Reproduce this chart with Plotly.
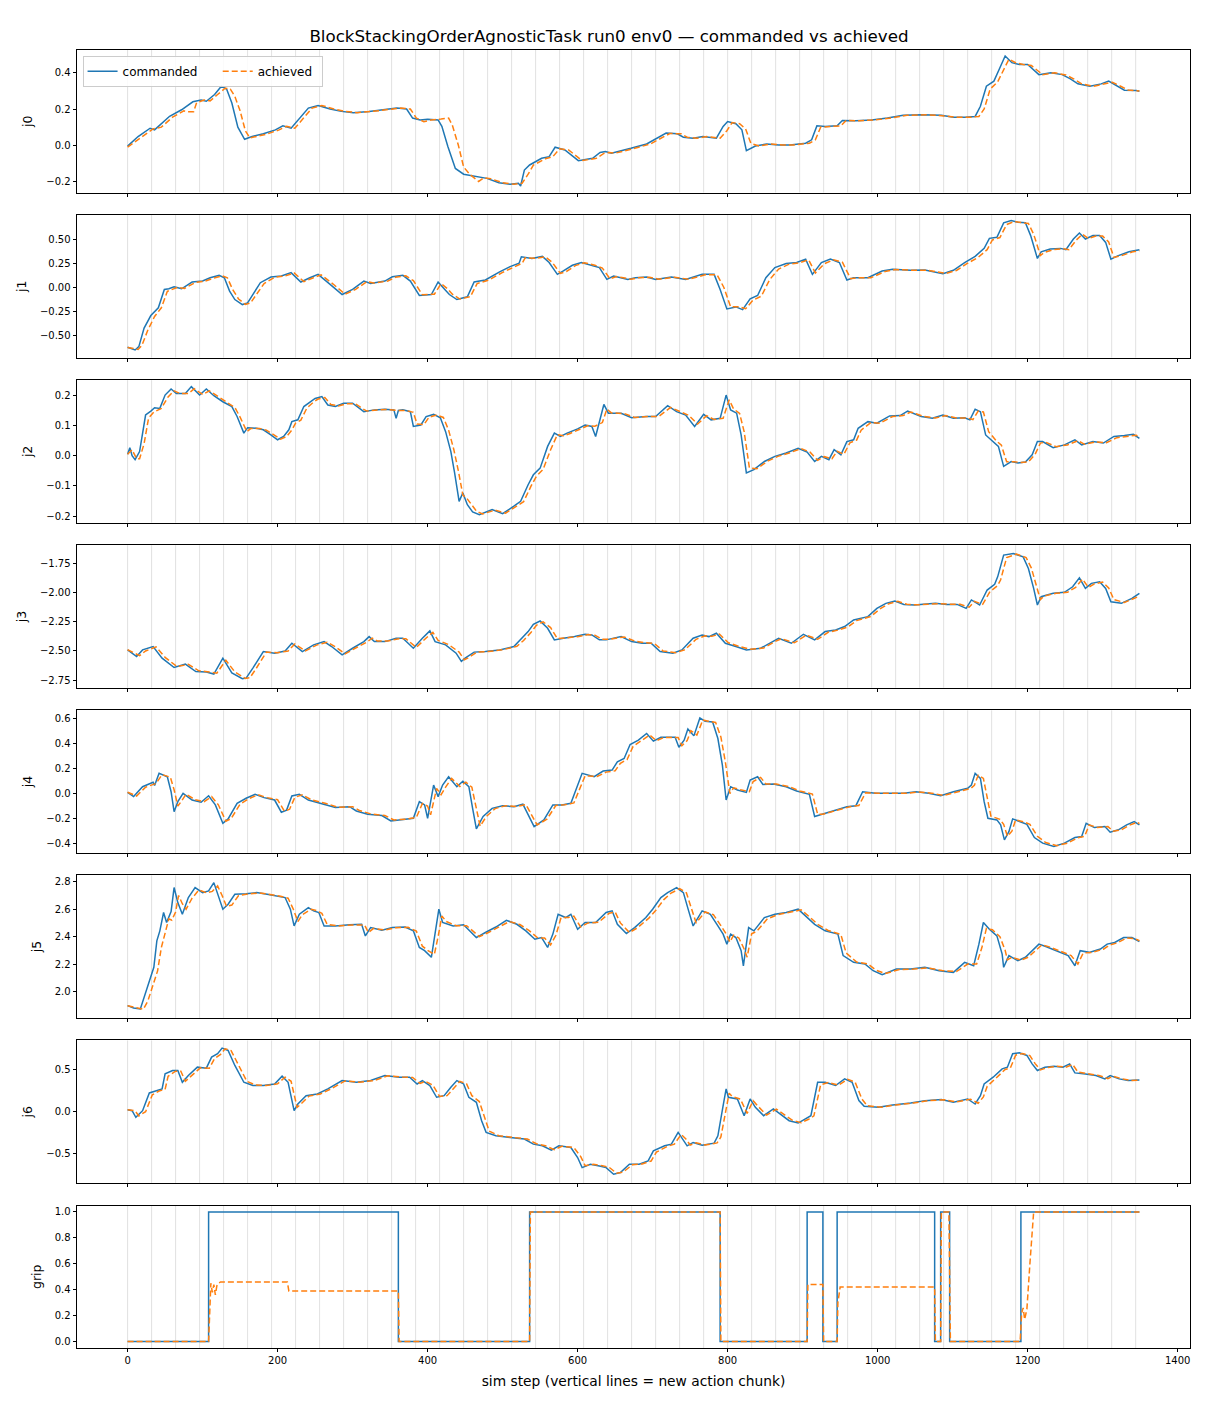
import plotly.graph_objects as go

# ---------------- data (sim step, value) ----------------
J0_CMD = [(0,-0.005),(14,0.048),(30,0.094),(36,0.085),(40,0.10),(56,0.16),(72,0.196),(87,0.24),(98,0.25),(105,0.243),(116,0.28),(125,0.326),(132,0.31),(139,0.233),(147,0.10),(156,0.033),(166,0.048),(181,0.063),(197,0.085),(207,0.107),(218,0.094),(228,0.14),(241,0.205),(254,0.22),(270,0.2),(285,0.187),(301,0.18),(322,0.187),(343,0.196),(359,0.205),(372,0.2),(380,0.15),(390,0.14),(400,0.144),(414,0.14),(419,0.104),(427,-0.007),(437,-0.128),(448,-0.16),(463,-0.17),(479,-0.183),(495,-0.207),(510,-0.215),(521,-0.21),(524,-0.225),(529,-0.137),(536,-0.109),(552,-0.072),(562,-0.063),(570,-0.011),(583,-0.026),(601,-0.085),(620,-0.072),(630,-0.04),(637,-0.035),(645,-0.044),(661,-0.03),(671,-0.017),(692,0.007),(707,0.039),(718,0.067),(733,0.063),(741,0.044),(754,0.039),(767,0.048),(785,0.039),(794,0.104),(800,0.131),(811,0.119),(819,0.085),(825,-0.03),(837,-0.004),(852,0.007),(868,0.002),(883,0.002),(904,0.011),(912,0.03),(919,0.107),(930,0.104),(946,0.107),(953,0.137),(971,0.135),(992,0.14),(1013,0.15),(1034,0.165),(1060,0.168),(1085,0.165),(1101,0.154),(1117,0.154),(1130,0.159),(1137,0.215),(1145,0.326),(1155,0.354),(1163,0.428),(1170,0.493),(1179,0.456),(1189,0.446),(1200,0.446),(1207,0.419),(1215,0.39),(1231,0.4),(1246,0.39),(1257,0.367),(1267,0.339),(1283,0.326),(1298,0.339),(1308,0.354),(1319,0.326),(1329,0.304),(1345,0.302),(1349,0.298)]
J0_ACH = [(0,-0.01),(18,0.045),(34,0.09),(45,0.1),(60,0.155),(75,0.19),(80,0.185),(88,0.185),(92,0.235),(102,0.25),(110,0.245),(120,0.28),(130,0.315),(137,0.31),(143,0.27),(150,0.19),(157,0.08),(163,0.04),(172,0.048),(186,0.062),(202,0.085),(212,0.105),(223,0.094),(233,0.14),(246,0.205),(259,0.22),(275,0.2),(290,0.187),(306,0.18),(327,0.187),(348,0.196),(364,0.205),(377,0.2),(385,0.15),(395,0.13),(405,0.14),(418,0.145),(428,0.15),(433,0.11),(441,0.0),(448,-0.12),(456,-0.16),(468,-0.2),(475,-0.18),(484,-0.185),(500,-0.207),(515,-0.215),(526,-0.21),(534,-0.16),(541,-0.11),(557,-0.075),(567,-0.063),(576,-0.02),(588,-0.026),(606,-0.085),(625,-0.072),(635,-0.045),(642,-0.04),(650,-0.044),(666,-0.03),(676,-0.017),(697,0.007),(712,0.039),(723,0.065),(738,0.063),(746,0.044),(759,0.039),(772,0.048),(790,0.039),(799,0.08),(806,0.125),(816,0.119),(824,0.09),(831,0.01),(842,-0.004),(857,0.007),(873,0.002),(888,0.002),(909,0.011),(917,0.03),(924,0.1),(935,0.104),(951,0.107),(958,0.137),(976,0.135),(997,0.14),(1018,0.15),(1039,0.165),(1065,0.168),(1090,0.162),(1106,0.154),(1122,0.154),(1135,0.159),(1142,0.2),(1150,0.31),(1160,0.35),(1168,0.42),(1175,0.475),(1184,0.456),(1194,0.446),(1205,0.44),(1212,0.415),(1220,0.39),(1236,0.4),(1251,0.388),(1262,0.365),(1272,0.339),(1288,0.326),(1303,0.337),(1313,0.348),(1324,0.326),(1334,0.305),(1349,0.3)]

J1_CMD = [(0,-0.618),(10,-0.646),(15,-0.611),(22,-0.42),(31,-0.29),(41,-0.21),(49,-0.021),(55,-0.014),(62,0.007),(72,-0.014),(86,0.056),(100,0.066),(110,0.10),(122,0.125),(129,0.10),(136,-0.038),(143,-0.125),(153,-0.177),(160,-0.16),(167,-0.073),(177,0.049),(191,0.108),(205,0.118),(218,0.153),(231,0.056),(243,0.10),(254,0.135),(270,0.031),(286,-0.073),(300,-0.021),(315,0.066),(324,0.042),(343,0.066),(353,0.11),(367,0.125),(377,0.066),(389,-0.083),(405,-0.073),(414,0.056),(422,-0.014),(429,-0.073),(439,-0.125),(453,-0.097),(462,0.056),(477,0.077),(496,0.16),(510,0.215),(522,0.25),(525,0.316),(539,0.299),(553,0.32),(562,0.257),(573,0.135),(581,0.17),(593,0.229),(605,0.257),(619,0.229),(629,0.205),(639,0.083),(648,0.118),(667,0.083),(677,0.10),(692,0.108),(704,0.083),(725,0.108),(744,0.083),(766,0.135),(782,0.135),(790,-0.021),(799,-0.222),(811,-0.201),(820,-0.229),(830,-0.118),(840,-0.083),(851,0.10),(863,0.205),(878,0.247),(892,0.257),(904,0.292),(913,0.135),(925,0.257),(937,0.292),(949,0.257),(959,0.076),(968,0.10),(987,0.10),(1006,0.17),(1020,0.188),(1044,0.177),(1063,0.18),(1087,0.142),(1101,0.177),(1116,0.257),(1130,0.32),(1142,0.403),(1149,0.507),(1159,0.517),(1168,0.667),(1178,0.69),(1187,0.674),(1197,0.667),(1204,0.535),(1213,0.299),(1218,0.368),(1230,0.396),(1244,0.403),(1251,0.389),(1261,0.5),(1269,0.562),(1277,0.5),(1287,0.535),(1296,0.535),(1304,0.465),(1311,0.292),(1320,0.326),(1335,0.368),(1349,0.389)]
J1_ACH = [(0,-0.62),(14,-0.64),(19,-0.6),(27,-0.44),(36,-0.3),(45,-0.21),(53,-0.04),(60,-0.014),(66,0.0),(76,-0.01),(90,0.05),(104,0.066),(114,0.095),(126,0.12),(133,0.10),(140,-0.02),(148,-0.12),(157,-0.175),(164,-0.16),(172,-0.07),(182,0.04),(196,0.105),(210,0.118),(222,0.15),(235,0.06),(247,0.098),(258,0.13),(274,0.035),(290,-0.07),(304,-0.02),(319,0.06),(328,0.045),(347,0.066),(357,0.105),(371,0.12),(381,0.07),(393,-0.075),(409,-0.07),(418,0.04),(426,-0.01),(433,-0.07),(443,-0.12),(457,-0.095),(466,0.04),(481,0.075),(500,0.155),(514,0.21),(526,0.25),(530,0.305),(543,0.3),(557,0.315),(566,0.26),(577,0.145),(585,0.165),(597,0.225),(609,0.255),(623,0.23),(633,0.2),(643,0.09),(652,0.112),(671,0.085),(681,0.1),(696,0.105),(708,0.085),(729,0.105),(748,0.085),(770,0.13),(786,0.13),(795,0.0),(804,-0.2),(815,-0.2),(824,-0.22),(834,-0.13),(845,-0.09),(856,0.08),(868,0.19),(882,0.24),(896,0.255),(908,0.285),(917,0.15),(929,0.245),(941,0.285),(953,0.26),(964,0.09),(972,0.1),(991,0.1),(1010,0.165),(1024,0.185),(1048,0.177),(1067,0.178),(1091,0.145),(1105,0.175),(1120,0.25),(1134,0.31),(1146,0.39),(1153,0.49),(1163,0.515),(1172,0.65),(1182,0.68),(1191,0.672),(1201,0.66),(1208,0.55),(1217,0.33),(1222,0.36),(1234,0.39),(1248,0.4),(1255,0.39),(1265,0.49),(1273,0.55),(1281,0.505),(1291,0.53),(1300,0.53),(1308,0.47),(1315,0.31),(1324,0.325),(1339,0.365),(1349,0.38)]

J2_CMD = [(0,0.005),(3,0.027),(6,0.0),(10,-0.013),(16,0.014),(20,0.069),(24,0.135),(31,0.148),(36,0.159),(43,0.157),(50,0.201),(58,0.221),(65,0.206),(77,0.206),(85,0.229),(96,0.201),(105,0.221),(115,0.199),(127,0.179),(139,0.163),(146,0.13),(155,0.075),(160,0.093),(172,0.091),(181,0.086),(191,0.069),(200,0.053),(208,0.064),(215,0.086),(219,0.113),(227,0.119),(235,0.163),(243,0.179),(250,0.19),(259,0.196),(267,0.168),(277,0.163),(288,0.174),(300,0.174),(308,0.159),(315,0.146),(329,0.152),(343,0.154),(355,0.152),(358,0.124),(361,0.15),(367,0.152),(377,0.146),(381,0.097),(391,0.102),(398,0.13),(408,0.137),(417,0.126),(424,0.08),(431,0.014),(436,-0.057),(442,-0.151),(447,-0.123),(453,-0.162),(460,-0.186),(469,-0.195),(486,-0.178),(500,-0.192),(515,-0.167),(524,-0.151),(534,-0.096),(541,-0.063),(550,-0.041),(560,0.031),(569,0.075),(577,0.064),(586,0.075),(600,0.089),(610,0.102),(619,0.097),(624,0.064),(629,0.113),(635,0.17),(641,0.141),(658,0.141),(672,0.126),(691,0.13),(704,0.13),(720,0.166),(732,0.146),(744,0.135),(756,0.097),(768,0.137),(778,0.119),(790,0.124),(798,0.201),(804,0.152),(812,0.141),(818,0.069),(825,-0.057),(835,-0.046),(849,-0.019),(863,-0.002),(878,0.009),(894,0.025),(906,0.012),(916,-0.019),(925,-0.002),(935,-0.013),(942,0.02),(951,0.003),(959,0.047),(968,0.053),(974,0.091),(987,0.113),(999,0.108),(1016,0.132),(1030,0.133),(1040,0.148),(1058,0.13),(1073,0.124),(1087,0.135),(1101,0.124),(1116,0.126),(1123,0.119),(1130,0.154),(1137,0.146),(1144,0.069),(1154,0.047),(1161,0.031),(1168,-0.035),(1178,-0.019),(1187,-0.024),(1197,-0.021),(1206,0.003),(1213,0.047),(1220,0.047),(1234,0.027),(1249,0.036),(1263,0.053),(1272,0.036),(1287,0.047),(1301,0.042),(1315,0.064),(1329,0.067),(1341,0.071),(1349,0.058)]
J2_ACH = [(0,0.005),(6,0.02),(12,-0.01),(16,-0.01),(22,0.04),(28,0.125),(35,0.145),(45,0.157),(54,0.195),(62,0.215),(70,0.206),(81,0.206),(89,0.222),(100,0.203),(109,0.215),(119,0.198),(131,0.178),(143,0.16),(150,0.128),(159,0.08),(164,0.09),(176,0.09),(185,0.085),(195,0.07),(204,0.055),(212,0.064),(219,0.085),(224,0.108),(231,0.118),(239,0.158),(247,0.176),(254,0.188),(263,0.193),(271,0.17),(281,0.165),(292,0.172),(304,0.172),(312,0.158),(319,0.148),(333,0.152),(347,0.153),(362,0.15),(371,0.15),(381,0.144),(386,0.105),(395,0.103),(402,0.128),(412,0.135),(421,0.127),(428,0.085),(435,0.02),(441,-0.05),(447,-0.13),(452,-0.14),(458,-0.16),(465,-0.183),(473,-0.193),(490,-0.18),(504,-0.19),(519,-0.168),(528,-0.152),(538,-0.1),(545,-0.068),(554,-0.045),(564,0.02),(573,0.07),(581,0.066),(590,0.074),(604,0.088),(614,0.1),(623,0.098),(633,0.11),(639,0.155),(645,0.142),(662,0.14),(676,0.127),(695,0.13),(708,0.13),(724,0.16),(736,0.146),(748,0.134),(760,0.105),(772,0.133),(782,0.12),(794,0.124),(802,0.185),(808,0.155),(816,0.14),(822,0.08),(829,-0.04),(839,-0.043),(853,-0.018),(867,-0.002),(882,0.009),(898,0.024),(910,0.012),(920,-0.015),(929,-0.003),(939,-0.01),(946,0.015),(955,0.005),(963,0.043),(972,0.052),(978,0.085),(991,0.11),(1003,0.108),(1020,0.13),(1034,0.133),(1044,0.145),(1062,0.13),(1077,0.125),(1091,0.133),(1105,0.125),(1120,0.125),(1127,0.12),(1134,0.148),(1141,0.145),(1148,0.08),(1158,0.05),(1165,0.035),(1172,-0.02),(1182,-0.02),(1191,-0.022),(1201,-0.02),(1210,0.005),(1217,0.042),(1224,0.045),(1238,0.03),(1253,0.036),(1267,0.05),(1276,0.038),(1291,0.046),(1305,0.043),(1319,0.06),(1333,0.065),(1345,0.068),(1349,0.062)]

J3_CMD = [(0,-2.491),(12,-2.548),(20,-2.491),(34,-2.462),(46,-2.562),(62,-2.642),(77,-2.613),(91,-2.676),(105,-2.681),(115,-2.698),(127,-2.562),(139,-2.689),(153,-2.738),(158,-2.733),(167,-2.647),(181,-2.505),(196,-2.519),(210,-2.5),(219,-2.434),(233,-2.505),(248,-2.448),(262,-2.42),(272,-2.462),(286,-2.533),(300,-2.477),(315,-2.42),(322,-2.377),(329,-2.42),(343,-2.42),(358,-2.391),(367,-2.391),(381,-2.477),(393,-2.391),(403,-2.328),(410,-2.42),(424,-2.448),(438,-2.519),(445,-2.59),(450,-2.562),(462,-2.51),(477,-2.505),(496,-2.491),(515,-2.462),(524,-2.405),(534,-2.334),(541,-2.271),(550,-2.243),(560,-2.306),(569,-2.405),(581,-2.391),(596,-2.377),(610,-2.357),(619,-2.363),(629,-2.405),(638,-2.405),(658,-2.377),(672,-2.42),(686,-2.434),(698,-2.434),(710,-2.505),(727,-2.519),(739,-2.491),(754,-2.391),(766,-2.363),(775,-2.377),(785,-2.348),(797,-2.434),(811,-2.462),(825,-2.491),(844,-2.477),(859,-2.42),(868,-2.391),(885,-2.434),(901,-2.357),(916,-2.405),(930,-2.334),(944,-2.32),(956,-2.291),(968,-2.234),(987,-2.206),(999,-2.135),(1011,-2.092),(1023,-2.072),(1035,-2.101),(1049,-2.106),(1063,-2.101),(1077,-2.092),(1092,-2.101),(1106,-2.101),(1118,-2.135),(1125,-2.063),(1136,-2.106),(1146,-1.978),(1156,-1.929),(1160,-1.865),(1168,-1.679),(1181,-1.665),(1194,-1.694),(1201,-1.793),(1208,-1.964),(1213,-2.106),(1218,-2.035),(1234,-2.006),(1249,-1.998),(1260,-1.95),(1269,-1.873),(1277,-1.964),(1285,-1.921),(1296,-1.907),(1304,-1.964),(1311,-2.078),(1325,-2.092),(1339,-2.049),(1349,-2.006)]
J3_ACH = [(0,-2.49),(16,-2.54),(24,-2.5),(38,-2.465),(50,-2.555),(66,-2.635),(81,-2.615),(95,-2.67),(109,-2.68),(119,-2.69),(131,-2.58),(143,-2.68),(157,-2.735),(163,-2.73),(171,-2.655),(185,-2.51),(200,-2.515),(214,-2.5),(223,-2.44),(237,-2.5),(252,-2.45),(266,-2.425),(276,-2.46),(290,-2.525),(304,-2.475),(319,-2.425),(326,-2.39),(333,-2.415),(347,-2.415),(362,-2.395),(371,-2.395),(385,-2.47),(397,-2.395),(407,-2.34),(414,-2.41),(428,-2.445),(442,-2.51),(449,-2.575),(454,-2.56),(466,-2.51),(481,-2.505),(500,-2.49),(519,-2.46),(528,-2.41),(538,-2.34),(545,-2.28),(554,-2.25),(564,-2.3),(573,-2.395),(585,-2.39),(600,-2.378),(614,-2.36),(623,-2.365),(633,-2.4),(642,-2.4),(662,-2.38),(676,-2.415),(690,-2.43),(702,-2.435),(714,-2.5),(731,-2.515),(743,-2.49),(758,-2.4),(770,-2.37),(779,-2.375),(789,-2.355),(801,-2.43),(815,-2.46),(829,-2.485),(848,-2.475),(863,-2.42),(872,-2.395),(889,-2.43),(905,-2.365),(920,-2.4),(934,-2.34),(948,-2.32),(960,-2.295),(972,-2.24),(991,-2.205),(1003,-2.14),(1015,-2.095),(1027,-2.075),(1039,-2.1),(1053,-2.105),(1067,-2.1),(1081,-2.095),(1096,-2.1),(1110,-2.1),(1122,-2.125),(1129,-2.075),(1140,-2.1),(1150,-1.99),(1160,-1.94),(1164,-1.89),(1172,-1.7),(1185,-1.67),(1198,-1.7),(1205,-1.79),(1212,-1.95),(1217,-2.06),(1222,-2.03),(1238,-2.005),(1253,-1.998),(1264,-1.955),(1273,-1.885),(1281,-1.955),(1289,-1.925),(1300,-1.91),(1308,-1.96),(1315,-2.06),(1329,-2.085),(1343,-2.05),(1349,-2.03)]

J4_CMD = [(0,0.009),(8,-0.025),(20,0.054),(34,0.089),(36,0.063),(42,0.16),(53,0.133),(58,0.014),(62,-0.145),(67,-0.065),(74,0.001),(86,-0.052),(98,-0.07),(108,-0.018),(117,-0.091),(127,-0.237),(134,-0.202),(146,-0.078),(158,-0.038),(170,-0.007),(182,-0.033),(196,-0.052),(205,-0.149),(212,-0.132),(219,-0.02),(229,-0.007),(241,-0.052),(258,-0.078),(277,-0.112),(296,-0.105),(305,-0.139),(320,-0.165),(339,-0.175),(351,-0.218),(367,-0.21),(381,-0.197),(389,-0.065),(396,-0.091),(400,-0.197),(408,0.067),(414,-0.025),(420,0.067),(428,0.133),(439,0.054),(447,0.098),(455,0.054),(460,-0.118),(465,-0.281),(474,-0.183),(486,-0.118),(500,-0.097),(515,-0.105),(527,-0.085),(536,-0.197),(542,-0.263),(555,-0.21),(567,-0.091),(579,-0.091),(591,-0.078),(606,0.16),(622,0.133),(634,0.178),(646,0.186),(653,0.252),(662,0.278),(670,0.389),(681,0.424),(692,0.477),(701,0.416),(711,0.447),(730,0.447),(735,0.368),(742,0.424),(747,0.512),(755,0.458),(763,0.601),(770,0.574),(780,0.569),(787,0.437),(793,0.225),(798,-0.052),(804,0.054),(813,0.028),(825,0.009),(830,0.107),(840,0.133),(847,0.072),(861,0.075),(878,0.054),(892,0.02),(909,-0.007),(916,-0.183),(923,-0.17),(940,-0.139),(959,-0.105),(971,-0.097),(980,0.014),(997,0.001),(1016,0.001),(1035,0.001),(1051,0.014),(1068,0.001),(1084,-0.018),(1101,0.014),(1120,0.041),(1125,0.067),(1130,0.16),(1137,0.12),(1142,-0.065),(1147,-0.197),(1159,-0.21),(1164,-0.25),(1169,-0.369),(1175,-0.303),(1180,-0.202),(1192,-0.229),(1199,-0.245),(1209,-0.35),(1220,-0.395),(1235,-0.421),(1249,-0.395),(1263,-0.35),(1272,-0.342),(1278,-0.237),(1289,-0.271),(1303,-0.263),(1310,-0.308),(1321,-0.289),(1332,-0.25),(1342,-0.224),(1349,-0.25)]
J4_ACH = [(0,0.01),(12,-0.02),(24,0.05),(38,0.08),(46,0.15),(57,0.13),(62,0.03),(67,-0.1),(72,-0.06),(78,-0.005),(90,-0.05),(102,-0.065),(112,-0.025),(121,-0.09),(131,-0.22),(138,-0.2),(150,-0.085),(162,-0.04),(174,-0.01),(186,-0.033),(200,-0.05),(209,-0.14),(216,-0.125),(223,-0.03),(233,-0.01),(245,-0.05),(262,-0.075),(281,-0.11),(300,-0.105),(309,-0.135),(324,-0.162),(343,-0.175),(355,-0.21),(371,-0.205),(385,-0.19),(393,-0.08),(400,-0.1),(404,-0.17),(412,0.04),(418,-0.01),(424,0.05),(432,0.12),(443,0.055),(451,0.09),(459,0.05),(464,-0.1),(470,-0.26),(478,-0.185),(490,-0.12),(504,-0.097),(519,-0.103),(531,-0.088),(540,-0.185),(546,-0.25),(559,-0.205),(571,-0.095),(583,-0.09),(595,-0.075),(610,0.14),(626,0.135),(638,0.17),(650,0.18),(657,0.24),(666,0.27),(674,0.375),(685,0.42),(696,0.465),(705,0.42),(715,0.445),(734,0.445),(739,0.38),(746,0.42),(751,0.5),(759,0.465),(767,0.585),(774,0.575),(784,0.565),(791,0.45),(797,0.25),(803,0.0),(808,0.045),(817,0.03),(829,0.015),(834,0.095),(844,0.128),(851,0.075),(865,0.075),(882,0.055),(896,0.02),(913,-0.005),(920,-0.165),(927,-0.165),(944,-0.138),(963,-0.105),(975,-0.095),(984,0.005),(1001,0.002),(1020,0.001),(1039,0.002),(1055,0.012),(1072,0.002),(1088,-0.015),(1105,0.012),(1124,0.04),(1129,0.065),(1134,0.145),(1141,0.12),(1146,-0.04),(1151,-0.18),(1163,-0.205),(1168,-0.245),(1173,-0.34),(1179,-0.3),(1184,-0.21),(1196,-0.228),(1203,-0.245),(1213,-0.34),(1224,-0.39),(1239,-0.415),(1253,-0.395),(1267,-0.352),(1276,-0.34),(1282,-0.25),(1293,-0.27),(1307,-0.263),(1314,-0.3),(1325,-0.288),(1336,-0.252),(1346,-0.228),(1349,-0.24)]

J5_CMD = [(0,1.896),(8,1.879),(17,1.872),(22,1.958),(29,2.067),(35,2.176),(39,2.369),(43,2.442),(48,2.576),(52,2.503),(58,2.583),(62,2.758),(67,2.648),(73,2.563),(81,2.685),(90,2.758),(100,2.721),(108,2.733),(115,2.794),(121,2.697),(127,2.6),(134,2.636),(143,2.709),(158,2.713),(172,2.721),(186,2.709),(200,2.697),(210,2.685),(217,2.6),(222,2.478),(229,2.563),(241,2.612),(248,2.588),(255,2.576),(262,2.478),(277,2.478),(296,2.486),(312,2.49),(317,2.405),(324,2.466),(339,2.447),(353,2.466),(370,2.47),(381,2.442),(389,2.321),(396,2.297),(405,2.249),(410,2.418),(415,2.6),(420,2.503),(434,2.478),(448,2.486),(465,2.393),(477,2.43),(491,2.47),(505,2.519),(519,2.49),(531,2.442),(543,2.381),(552,2.393),(560,2.321),(567,2.418),(574,2.563),(584,2.539),(591,2.563),(600,2.454),(610,2.503),(624,2.503),(638,2.576),(646,2.588),(653,2.49),(665,2.422),(676,2.466),(691,2.539),(700,2.6),(711,2.685),(720,2.721),(732,2.758),(741,2.721),(748,2.588),(754,2.478),(766,2.588),(777,2.563),(787,2.478),(794,2.418),(799,2.345),(804,2.418),(811,2.393),(818,2.297),(821,2.187),(828,2.466),(835,2.442),(849,2.539),(863,2.563),(878,2.576),(894,2.6),(906,2.539),(916,2.49),(930,2.442),(947,2.418),(954,2.261),(968,2.212),(983,2.2),(994,2.151),(1006,2.122),(1025,2.163),(1044,2.163),(1063,2.176),(1082,2.151),(1101,2.139),(1116,2.212),(1128,2.187),(1135,2.345),(1141,2.503),(1149,2.454),(1159,2.405),(1166,2.272),(1168,2.176),(1175,2.261),(1187,2.224),(1197,2.249),(1206,2.297),(1215,2.345),(1225,2.326),(1242,2.285),(1254,2.261),(1263,2.187),(1270,2.297),(1282,2.285),(1297,2.309),(1306,2.345),(1316,2.357),(1328,2.393),(1339,2.393),(1349,2.364)]
J5_ACH = [(0,1.895),(12,1.88),(21,1.87),(27,1.93),(34,2.04),(40,2.15),(45,2.32),(50,2.42),(55,2.53),(59,2.52),(64,2.58),(68,2.7),(73,2.64),(78,2.6),(86,2.68),(95,2.74),(105,2.72),(113,2.73),(120,2.77),(126,2.7),(132,2.62),(139,2.63),(148,2.7),(162,2.712),(176,2.718),(190,2.708),(204,2.695),(214,2.68),(221,2.6),(227,2.51),(233,2.56),(245,2.6),(252,2.59),(259,2.57),(266,2.49),(281,2.478),(300,2.485),(316,2.485),(321,2.43),(328,2.46),(343,2.448),(357,2.465),(374,2.468),(385,2.44),(393,2.33),(400,2.3),(409,2.27),(414,2.4),(419,2.55),(425,2.51),(438,2.48),(452,2.48),(469,2.4),(481,2.43),(495,2.468),(509,2.51),(523,2.488),(535,2.445),(547,2.39),(556,2.39),(564,2.34),(571,2.41),(578,2.54),(588,2.54),(595,2.55),(604,2.47),(614,2.5),(628,2.505),(642,2.57),(650,2.58),(657,2.5),(669,2.43),(680,2.465),(695,2.535),(704,2.59),(715,2.67),(724,2.715),(736,2.75),(745,2.72),(752,2.6),(758,2.5),(770,2.58),(781,2.56),(791,2.48),(798,2.42),(803,2.36),(808,2.41),(815,2.39),(822,2.31),(826,2.25),(832,2.42),(839,2.44),(853,2.53),(867,2.56),(882,2.575),(898,2.595),(910,2.54),(920,2.49),(934,2.445),(951,2.415),(958,2.28),(972,2.215),(987,2.2),(998,2.155),(1010,2.13),(1029,2.16),(1048,2.163),(1067,2.172),(1086,2.152),(1105,2.145),(1120,2.2),(1132,2.2),(1139,2.32),(1145,2.46),(1153,2.45),(1163,2.4),(1170,2.3),(1173,2.23),(1179,2.25),(1191,2.228),(1201,2.25),(1210,2.295),(1219,2.34),(1229,2.325),(1246,2.285),(1258,2.262),(1267,2.2),(1274,2.28),(1286,2.285),(1301,2.308),(1310,2.34),(1320,2.355),(1332,2.39),(1343,2.385),(1349,2.37)]

J6_CMD = [(0,0.024),(6,0.012),(11,-0.067),(20,0.012),(29,0.222),(38,0.25),(46,0.27),(50,0.448),(60,0.488),(67,0.488),(73,0.349),(81,0.429),(93,0.528),(105,0.516),(112,0.647),(120,0.687),(126,0.754),(134,0.726),(143,0.548),(155,0.349),(167,0.31),(181,0.31),(196,0.329),(206,0.421),(214,0.349),(222,0.012),(227,0.091),(238,0.19),(253,0.21),(267,0.27),(286,0.369),(305,0.349),(324,0.369),(343,0.429),(362,0.409),(376,0.409),(386,0.329),(393,0.369),(403,0.31),(412,0.171),(422,0.19),(431,0.29),(439,0.369),(448,0.329),(455,0.171),(465,0.111),(472,-0.107),(478,-0.245),(491,-0.286),(510,-0.306),(529,-0.325),(541,-0.385),(553,-0.405),(565,-0.456),(575,-0.405),(591,-0.425),(600,-0.544),(606,-0.663),(617,-0.623),(629,-0.643),(638,-0.663),(648,-0.742),(657,-0.722),(669,-0.623),(676,-0.623),(682,-0.623),(694,-0.583),(701,-0.464),(716,-0.405),(725,-0.385),(734,-0.246),(740,-0.325),(746,-0.405),(754,-0.365),(766,-0.397),(782,-0.373),(787,-0.286),(794,0.071),(798,0.27),(801,0.171),(813,0.151),(822,-0.048),(830,0.151),(837,0.052),(848,-0.048),(861,0.032),(873,-0.048),(882,-0.107),(894,-0.135),(904,-0.087),(911,-0.048),(920,0.349),(930,0.349),(944,0.31),(956,0.389),(966,0.349),(975,0.131),(982,0.063),(1001,0.052),(1020,0.079),(1044,0.103),(1063,0.131),(1085,0.143),(1101,0.111),(1120,0.151),(1130,0.091),(1137,0.19),(1142,0.329),(1154,0.409),(1166,0.508),(1173,0.528),(1180,0.687),(1189,0.698),(1199,0.667),(1206,0.567),(1213,0.488),(1223,0.528),(1235,0.54),(1247,0.528),(1256,0.567),(1263,0.46),(1277,0.448),(1291,0.429),(1303,0.389),(1310,0.429),(1322,0.389),(1334,0.369),(1349,0.377)]
J6_ACH = [(0,0.024),(10,0.01),(15,-0.05),(24,0.0),(33,0.2),(42,0.245),(50,0.265),(54,0.42),(64,0.48),(71,0.48),(77,0.36),(85,0.42),(97,0.52),(109,0.515),(116,0.63),(124,0.68),(130,0.745),(138,0.725),(147,0.56),(159,0.36),(171,0.315),(185,0.31),(200,0.33),(210,0.41),(218,0.36),(226,0.05),(231,0.09),(242,0.185),(257,0.21),(271,0.27),(290,0.365),(309,0.35),(328,0.368),(347,0.425),(366,0.41),(380,0.405),(390,0.335),(397,0.36),(407,0.315),(416,0.18),(426,0.19),(435,0.28),(443,0.36),(452,0.33),(459,0.19),(469,0.12),(476,-0.08),(482,-0.23),(495,-0.285),(514,-0.305),(533,-0.325),(545,-0.38),(557,-0.405),(569,-0.45),(579,-0.41),(595,-0.425),(604,-0.53),(610,-0.64),(621,-0.625),(633,-0.64),(642,-0.66),(652,-0.73),(661,-0.715),(673,-0.63),(686,-0.62),(698,-0.585),(705,-0.48),(720,-0.41),(729,-0.385),(738,-0.27),(744,-0.32),(750,-0.395),(758,-0.37),(770,-0.395),(786,-0.37),(791,-0.3),(798,0.03),(802,0.22),(806,0.18),(817,0.15),(826,-0.02),(834,0.13),(841,0.06),(852,-0.04),(865,0.03),(877,-0.045),(886,-0.1),(898,-0.13),(908,-0.09),(915,-0.05),(924,0.32),(934,0.345),(948,0.315),(960,0.385),(970,0.35),(979,0.15),(986,0.07),(1005,0.053),(1024,0.08),(1048,0.103),(1067,0.13),(1089,0.142),(1105,0.115),(1124,0.148),(1134,0.1),(1141,0.175),(1146,0.3),(1158,0.4),(1170,0.5),(1177,0.52),(1184,0.67),(1193,0.69),(1203,0.665),(1210,0.57),(1217,0.495),(1227,0.525),(1239,0.538),(1251,0.528),(1260,0.56),(1267,0.47),(1281,0.448),(1295,0.43),(1307,0.392),(1314,0.42),(1326,0.39),(1338,0.37),(1349,0.372)]

GRIP_CMD = [(0,0),(108,1),(361,0),(536,1),(790,0),(906,1),(927,0),(946,1),(1076,0),(1084,1),(1096,0),(1191,1),(1349,1)]
GRIP_ACH = [(0,0),(108,0),(110,0.3),(111,0.45),(113,0.38),(115,0.44),(117,0.36),(119,0.43),(121,0.45),(124,0.46),(213,0.46),(215,0.39),(361,0.39),(362,0),(536,0),(537,1),(790,1),(791,0),(906,0),(907,0.44),(927,0.44),(928,0),(946,0),(947,0.3),(950,0.42),(1076,0.42),(1077,0),(1084,0),(1085,1),(1095,1),(1097,0),(1190,0),(1192,0.22),(1194,0.26),(1196,0.17),(1199,0.25),(1203,0.6),(1208,1),(1349,1)]

CHUNK_STARTS = [0,32,64,96,128,160,192,224,256,288,320,352,384,416,448,480,512,544,576,608,640,672,704,736,768,800,832,864,896,928,960,992,1024,1056,1088,1120,1152,1184,1216,1248,1280,1312,1344]

PANEL_NAMES = ["j0", "j1", "j2", "j3", "j4", "j5", "j6", "grip"]
CMD_SERIES = [J0_CMD, J1_CMD, J2_CMD, J3_CMD, J4_CMD, J5_CMD, J6_CMD, GRIP_CMD]
ACH_SERIES = [J0_ACH, J1_ACH, J2_ACH, J3_ACH, J4_ACH, J5_ACH, J6_ACH, GRIP_ACH]
SERIES_NAMES = ["commanded", "achieved"]
TITLE = "BlockStackingOrderAgnosticTask run0 env0 \u2014 commanded vs achieved"
XLABEL = "sim step (vertical lines = new action chunk)"

# ---------------- axis settings ----------------
Y_AXES = [
    dict(range=[-0.261, 0.526], tick0=0, dtick=0.2, tickformat=".1f"),
    dict(range=[-0.724, 0.747], tick0=0, dtick=0.25, tickformat=".2f"),
    dict(range=[-0.2215, 0.2505], tick0=0, dtick=0.1, tickformat=".1f"),
    dict(range=[-2.815, -1.594], tick0=0, dtick=0.25, tickformat=".2f"),
    dict(range=[-0.4715, 0.6615], tick0=0, dtick=0.2, tickformat=".1f"),
    dict(range=[1.807, 2.847], tick0=0, dtick=0.2, tickformat=".1f"),
    dict(range=[-0.845, 0.845], tick0=0, dtick=0.5, tickformat=".1f"),
    dict(range=[-0.05, 1.05], tick0=0, dtick=0.2, tickformat=".1f"),
]
X_RANGE = [-67.45, 1416.45]

# the page body adds an 8px offset, so the figure is sized to compensate
W, H = 1202, 1400
M_L, M_R, M_T, M_B = 69, 20, 42, 60
PLOT_H = H - M_T - M_B
PANEL_H = 142.5
PANEL_STEP = (PLOT_H - PANEL_H) / 7.0

BLUE = "#1f77b4"
ORANGE = "#ff7f0e"
FONT = "DejaVu Sans"
PAD = "\u00a0" * 4  # spacing after a legend label

fig = go.Figure()
shapes = []
layout_axes = {}

for i, name in enumerate(PANEL_NAMES):
    n = "" if i == 0 else str(i + 1)
    xref, yref = "x" + n, "y" + n
    cx = [p[0] for p in CMD_SERIES[i]]
    cy = [p[1] for p in CMD_SERIES[i]]
    ax_ = [p[0] for p in ACH_SERIES[i]]
    ay_ = [p[1] for p in ACH_SERIES[i]]
    fig.add_trace(go.Scatter(
        x=cx, y=cy, mode="lines", name=SERIES_NAMES[0] + PAD,
        line=dict(color=BLUE, width=1.5, shape="hv" if name == "grip" else "linear"),
        xaxis=xref, yaxis=yref, showlegend=(i == 0), legendgroup="cmd"))
    fig.add_trace(go.Scatter(
        x=ax_, y=ay_, mode="lines", name=SERIES_NAMES[1] + "\u00a0",
        line=dict(color=ORANGE, width=1.5, dash="6px,3px"),
        xaxis=xref, yaxis=yref, showlegend=(i == 0), legendgroup="ach"))

    top_px = i * PANEL_STEP
    bot_px = top_px + PANEL_H
    ydom = [max(0.0, 1 - bot_px / PLOT_H), min(1.0, 1 - top_px / PLOT_H)]

    xa = dict(domain=[0, 1], anchor=yref, range=X_RANGE, tickmode="linear", tick0=0, dtick=200,
              ticks="outside", ticklen=3.5, tickwidth=0.8, tickcolor="black",
              showline=True, linecolor="black", linewidth=0.9, mirror=True,
              showgrid=False, zeroline=False, showticklabels=(i == 7),
              tickfont=dict(size=10, color="black", family=FONT))
    if i > 0:
        xa["matches"] = "x"
    if i == 7:
        xa["title"] = dict(text=XLABEL, font=dict(size=13.8, color="black", family=FONT), standoff=10)
    ya = dict(domain=ydom, anchor=xref, tickmode="linear", ticks="outside", ticklen=3.5,
              tickwidth=0.8, tickcolor="black", showline=True, linecolor="black",
              linewidth=0.9, mirror=True, showgrid=False, zeroline=False,
              tickfont=dict(size=10, color="black", family=FONT),
              title=dict(text=name, font=dict(size=12.5, color="black", family=FONT), standoff=10),
              **Y_AXES[i])
    layout_axes["xaxis" + n] = xa
    layout_axes["yaxis" + n] = ya

    for s in CHUNK_STARTS:
        shapes.append(dict(type="line", xref=xref, yref=yref + " domain",
                           x0=s, x1=s, y0=0, y1=1, layer="below",
                           line=dict(color="rgba(128,128,128,0.3)", width=0.8)))

fig.update_layout(
    width=W, height=H,
    margin=dict(l=M_L, r=M_R, t=M_T, b=M_B),
    paper_bgcolor="white", plot_bgcolor="white",
    font=dict(family=FONT, color="black"),
    title=dict(text=TITLE, x=0.5, xref="container", xanchor="center",
               y=1 - 28 / H, yref="container", yanchor="middle",
               font=dict(size=16.7, color="black", family=FONT)),
    legend=dict(orientation="h", x=0.005, y=0.9955, xanchor="left", yanchor="top",
                bgcolor="rgba(255,255,255,0.85)", bordercolor="#cccccc", borderwidth=1,
                font=dict(size=12, color="black", family=FONT), itemwidth=30,
                tracegroupgap=0),
    shapes=shapes,
    **layout_axes,
)

fig.write_html("out.html")
